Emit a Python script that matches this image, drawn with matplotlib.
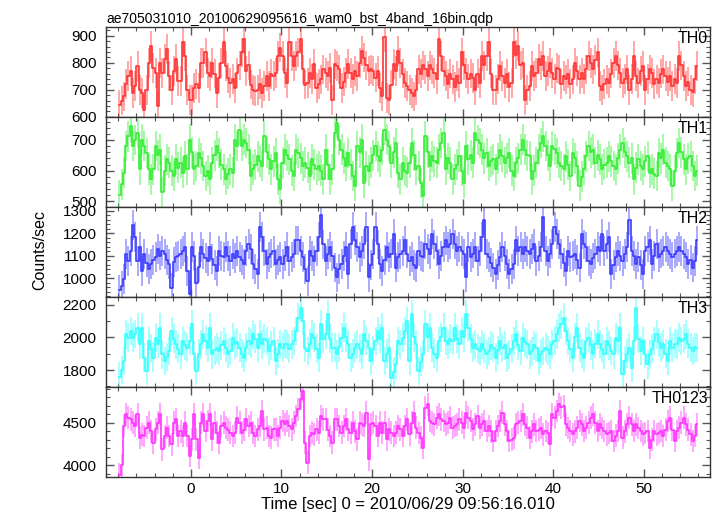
import numpy as np
import matplotlib
matplotlib.use("Agg")
import matplotlib.pyplot as plt
from matplotlib.ticker import MultipleLocator

# light curve, 0.25 s bins starting at t = -7.875 s
t_first = -7.875
bin_width = 0.25

th0 = [645, 660, 675, 720, 750, 769, 688, 713, 788, 700, 688, 625, 700, 800, 862, 780,
       763, 638, 800, 763, 813, 850, 750, 700, 770, 813, 732, 732, 875, 825, 700, 663,
       663, 707, 720, 707, 800, 800, 838, 763, 750, 800, 760, 688, 744, 800, 875, 788,
       744, 725, 740, 707, 763, 790, 838, 888, 769, 790, 719, 700, 694, 700, 720, 688,
       713, 750, 713, 757, 750, 763, 825, 856, 825, 763, 725, 875, 825, 788, 825, 838,
       888, 775, 719, 725, 763, 740, 794, 707, 720, 738, 775, 763, 750, 781, 663, 794,
       788, 775, 707, 730, 763, 794, 763, 740, 769, 750, 800, 844, 819, 790, 769, 775,
       769, 745, 769, 707, 675, 894, 669, 663, 719, 794, 769, 844, 800, 760, 725, 713,
       700, 688, 675, 700, 775, 760, 790, 775, 750, 790, 775, 763, 740, 888, 825, 770,
       750, 720, 760, 738, 710, 750, 725, 838, 790, 763, 740, 760, 744, 700, 760, 725,
       825, 790, 825, 875, 760, 700, 700, 740, 788, 750, 725, 760, 710, 725, 875, 830,
       863, 790, 800, 663, 700, 713, 788, 750, 763, 813, 790, 825, 750, 770, 800, 763,
       740, 781, 775, 720, 750, 738, 760, 720, 738, 800, 770, 738, 763, 740, 775, 825,
       800, 775, 810, 838, 713, 700, 720, 738, 725, 760, 800, 825, 790, 763, 725, 740,
       775, 700, 740, 825, 750, 725, 770, 788, 700, 740, 775, 763, 720, 738, 725, 760,
       775, 750, 730, 750, 713, 740, 725, 825, 790, 750, 713, 730, 700, 690, 738, 788]

th1 = [520, 555, 594, 680, 712, 744, 680, 700, 723, 604, 701, 680, 658, 604, 572, 604,
       680, 650, 669, 529, 600, 637, 626, 600, 583, 637, 610, 626, 594, 647, 604, 701,
       660, 604, 615, 658, 640, 615, 583, 600, 572, 626, 650, 680, 658, 620, 604, 572,
       590, 604, 594, 701, 680, 733, 680, 701, 690, 669, 583, 604, 620, 647, 630, 615,
       712, 660, 637, 604, 630, 658, 572, 540, 626, 669, 650, 637, 600, 583, 669, 658,
       640, 615, 626, 610, 583, 637, 620, 604, 615, 600, 572, 669, 620, 572, 604, 723,
       755, 700, 669, 640, 615, 658, 620, 583, 551, 680, 660, 701, 561, 615, 600, 626,
       650, 680, 647, 630, 669, 733, 701, 680, 626, 660, 690, 594, 572, 626, 600, 594,
       626, 690, 650, 604, 615, 560, 518, 712, 660, 615, 647, 630, 626, 669, 690, 723,
       604, 640, 626, 572, 604, 620, 647, 600, 561, 680, 637, 650, 626, 723, 700, 690,
       669, 640, 658, 615, 630, 637, 604, 640, 669, 647, 626, 640, 658, 600, 583, 626,
       640, 669, 701, 669, 650, 647, 572, 600, 626, 669, 690, 712, 680, 650, 615, 680,
       670, 658, 626, 615, 604, 647, 620, 583, 658, 640, 615, 551, 580, 604, 647, 680,
       660, 669, 626, 650, 637, 604, 620, 626, 647, 630, 615, 604, 640, 669, 690, 660,
       647, 626, 640, 572, 610, 637, 615, 604, 630, 647, 594, 604, 590, 583, 658, 640,
       669, 626, 615, 604, 551, 600, 658, 690, 660, 637, 604, 640, 647, 615, 583, 600]

th2 = [950, 965, 996, 1108, 1078, 1123, 1235, 1183, 1078, 1138, 1034, 1108, 1070, 1041, 1063, 1080,
       1093, 1131, 1101, 1120, 1108, 1080, 1063, 959, 1071, 1093, 1100, 1108, 1120, 1138, 1034, 929,
       1138, 1100, 981, 1050, 1138, 1108, 1090, 1078, 1138, 1086, 1060, 1034, 1123, 1100, 1093, 1138,
       1100, 1078, 1108, 1090, 1123, 1093, 1080, 1063, 1123, 1153, 1130, 1063, 1040, 1019, 1228, 1183,
       1120, 1063, 1093, 1110, 1123, 1063, 1080, 1093, 1063, 1100, 1138, 1078, 1093, 1110, 1168, 1168,
       1120, 1093, 1040, 989, 1123, 1100, 1078, 1123, 1183, 1280, 1150, 1078, 1108, 1138, 1100, 1048,
       1004, 1040, 1063, 1100, 1138, 1019, 1153, 1228, 1170, 1138, 1093, 1120, 1153, 1228, 1004, 1060,
       1108, 1228, 1150, 1063, 1034, 1080, 1138, 1093, 1110, 1198, 1048, 1093, 1108, 1123, 1168, 1110,
       1078, 1093, 1060, 1048, 1123, 1100, 1093, 1153, 1130, 1108, 1198, 1150, 1123, 1063, 1100, 1138,
       1168, 1140, 1153, 1198, 1150, 1123, 1138, 1120, 1108, 1004, 1138, 1093, 1110, 1138, 1078, 1120,
       1183, 1258, 1108, 1093, 1070, 1048, 1019, 1060, 1093, 1138, 1100, 1063, 1019, 1040, 1063, 1168,
       1120, 1138, 1108, 1138, 1120, 1108, 1130, 1153, 1078, 1100, 1138, 1273, 1123, 1078, 1110, 1153,
       1228, 1198, 1150, 1108, 1070, 1034, 1123, 1093, 1100, 1108, 1080, 1048, 1198, 1150, 1138, 1078,
       1063, 1090, 1108, 1138, 1120, 1198, 1123, 1150, 1183, 1019, 1060, 1093, 1123, 1100, 1078, 1108,
       1140, 1258, 1123, 1100, 1063, 1093, 1060, 1019, 1123, 1140, 1168, 1063, 1100, 1153, 1093, 1110,
       1123, 1138, 1120, 1108, 1093, 1110, 1123, 1138, 1120, 1108, 1093, 1063, 1080, 1048, 1078, 1168]

th3 = [1760, 1800, 1855, 2017, 1997, 2038, 1997, 2020, 2058, 1956, 2058, 1875, 1794, 1977, 1930, 1875,
       1997, 1960, 2058, 1895, 1855, 1880, 1916, 2038, 1990, 1956, 1930, 1895, 1977, 1950, 1936, 1977,
       2078, 1895, 1794, 1900, 1956, 2017, 1980, 1936, 2058, 1895, 1920, 1936, 1916, 1950, 1977, 1936,
       1900, 1916, 1997, 1956, 1970, 1936, 1900, 1875, 1936, 1977, 1960, 2017, 1990, 1936, 2017, 1956,
       1990, 1977, 1916, 1950, 1977, 1855, 1900, 1956, 1936, 1960, 1956, 1930, 1956, 1977, 2038, 2119,
       2180, 2099, 1936, 1916, 1960, 2017, 1997, 1930, 1875, 2078, 1990, 2017, 2139, 1990, 1936, 1936,
       1895, 1940, 1997, 2058, 2000, 1956, 1875, 1900, 1936, 1956, 1930, 1895, 2017, 1980, 1936, 1855,
       1920, 1977, 2038, 1990, 2058, 1855, 1900, 1936, 1753, 1790, 1834, 1977, 1956, 1997, 2038, 2099,
       1855, 2139, 2000, 1956, 1794, 1850, 1895, 2078, 2000, 2058, 1936, 1900, 1875, 1977, 2000, 2058,
       1977, 1956, 1990, 1977, 2058, 1990, 1956, 2038, 2000, 2139, 2058, 1990, 1936, 1956, 1930, 1916,
       1956, 1930, 1895, 1916, 1950, 1936, 1875, 1920, 1977, 1936, 1950, 1875, 1895, 1930, 1977, 2017,
       1950, 1916, 1997, 1970, 1956, 1895, 1916, 1950, 1936, 1855, 1900, 1916, 1936, 1920, 1895, 1956,
       1980, 2017, 2058, 2080, 2119, 2038, 1977, 1930, 1875, 2000, 2058, 1936, 1900, 1875, 1977, 1997,
       1950, 1895, 1960, 2017, 1956, 1930, 1895, 1977, 1950, 1916, 1895, 1997, 1980, 2058, 1773, 1855,
       1900, 1936, 1814, 1977, 2180, 1990, 1916, 1977, 1900, 1834, 1895, 1930, 1977, 2017, 1970, 1936,
       1956, 1900, 1855, 1977, 1936, 1960, 1956, 1997, 1977, 1990, 2017, 1960, 1936, 1916, 1940, 1936]

th0123 = [3890, 4000, 4460, 4598, 4560, 4540, 4500, 4461, 4598, 4324, 4360, 4344, 4442, 4500, 4400, 4266,
          4422, 4500, 4598, 4188, 4340, 4442, 4344, 4246, 4500, 4540, 4344, 4400, 4344, 4500, 4344, 4109,
          4305, 4598, 4305, 4090, 4500, 4598, 4403, 4520, 4598, 4305, 4500, 4383, 4266, 4461, 4500, 4442,
          4420, 4383, 4344, 4383, 4559, 4500, 4383, 4420, 4540, 4461, 4500, 4383, 4344, 4422, 4461, 4637,
          4422, 4442, 4344, 4324, 4422, 4422, 4344, 4442, 4520, 4480, 4520, 4461, 4422, 4500, 4579, 4657,
          4780, 4872, 4266, 4031, 4344, 4383, 4364, 4422, 4383, 4579, 4540, 4540, 4420, 4344, 4266, 4540,
          4540, 4460, 4383, 4461, 4540, 4422, 4383, 4500, 4400, 4305, 4500, 4481, 4461, 4618, 4070, 4480,
          4500, 4461, 4344, 4500, 4383, 4500, 4305, 4422, 4383, 4344, 4383, 4461, 4422, 4344, 4461, 4540,
          4364, 4500, 4618, 4442, 4380, 4325, 4207, 4677, 4716, 4520, 4500, 4481, 4559, 4598, 4540, 4520,
          4481, 4500, 4559, 4442, 4460, 4481, 4540, 4500, 4442, 4618, 4560, 4520, 4422, 4480, 4579, 4442,
          4480, 4520, 4403, 4462, 4400, 4285, 4403, 4460, 4520, 4618, 4481, 4403, 4285, 4300, 4325, 4481,
          4500, 4520, 4598, 4480, 4442, 4325, 4400, 4481, 4403, 4420, 4442, 4364, 4403, 4380, 4246, 4598,
          4560, 4637, 4716, 4680, 4696, 4481, 4440, 4403, 4364, 4400, 4442, 4520, 4480, 4403, 4442, 4500,
          4559, 4598, 4500, 4403, 4481, 4440, 4403, 4364, 4380, 4403, 4285, 4350, 4403, 4637, 4325, 4400,
          4481, 4559, 4480, 4403, 4481, 4440, 4403, 4364, 4380, 4403, 4207, 4300, 4403, 4364, 4380, 4403,
          4344, 4420, 4520, 4559, 4420, 4285, 4403, 4442, 4500, 4559, 4481, 4420, 4364, 4285, 4350, 4481]

names = ["TH0", "TH1", "TH2", "TH3", "TH0123"]
series = [th0, th1, th2, th3, th0123]
err_half = [55, 50, 66, 88, 133]   # typical half-length of the error bars
colors = ["#ff3333", "#33ee33", "#3a3aff", "#33ffff", "#ff33ff"]
ylims = [(598, 931), (481, 774), (917, 1315), (1696, 2245), (3863, 4919)]
major_step = [100, 100, 100, 200, 500]
minor_step = [20, 20, 20, 100, 100]

plt.rcParams["font.family"] = ["Liberation Sans", "DejaVu Sans"]

fig, axes = plt.subplots(5, 1, sharex=True, figsize=(7.17, 5.16), dpi=100)
fig.subplots_adjust(left=0.148, right=0.990, top=0.947, bottom=0.0756, hspace=0)

for ax, name, vals, e, c, yl, mj, mn in zip(axes, names, series, err_half, colors,
                                            ylims, major_step, minor_step):
    y = np.asarray(vals, dtype=float)
    t = t_first + bin_width * np.arange(len(y))
    ax.errorbar(t, y, yerr=e, fmt="none", ecolor=c, elinewidth=1.2, alpha=0.5)
    ax.step(t, y, where="mid", color=c, lw=1.2)
    ax.set_ylim(*yl)
    ax.yaxis.set_major_locator(MultipleLocator(mj))
    ax.yaxis.set_minor_locator(MultipleLocator(mn))
    ax.xaxis.set_major_locator(MultipleLocator(10))
    ax.xaxis.set_minor_locator(MultipleLocator(2))
    ax.tick_params(which="both", direction="in", top=True, right=True,
                   labelsize=11, color="#555555")
    ax.tick_params(axis="y", which="major", pad=7)
    ax.tick_params(which="major", length=6, width=1)
    ax.tick_params(which="minor", length=3, width=0.8)
    for sp in ax.spines.values():
        sp.set_color("#333333")
        sp.set_linewidth(1.0)
    ax.text(0.997, 0.955, name, transform=ax.transAxes, ha="right", va="top",
            fontsize=11.5)

axes[0].set_xlim(-9.34, 57.25)
axes[0].set_title("ae705031010_20100629095616_wam0_bst_4band_16bin.qdp",
                  loc="left", fontsize=10, pad=3)
axes[-1].set_xlabel("Time [sec] 0 = 2010/06/29 09:56:16.010", fontsize=12, labelpad=1)
fig.text(0.056, 0.515, "Counts/sec", rotation=90, ha="center", va="center", fontsize=11.5)

plt.savefig("out.png", dpi=100)
